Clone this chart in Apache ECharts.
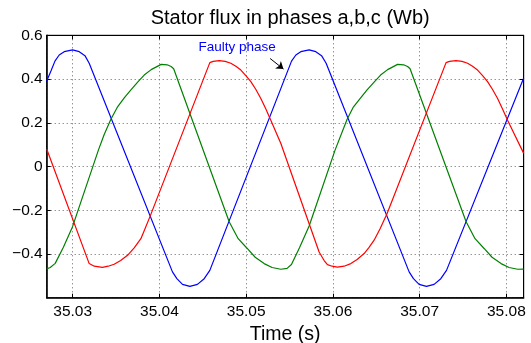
<!DOCTYPE html>
<html>
<head>
<meta charset="utf-8">
<script src="https://cdn.jsdelivr.net/npm/echarts@6/dist/echarts.min.js"></script>
<style>
  html, body { margin: 0; padding: 0; background: #fff; }
  #chart { width: 531px; height: 343px; }
</style>
</head>
<body>
<div id="chart"></div>
<script>
// Stator flux, phases a (blue, faulty), b (green), c (red)
const phaseATime = [35.0270, 35.02749, 35.02795, 35.02844, 35.02902, 35.02998, 35.03075, 35.03141, 35.03190,
  35.04150, 35.04201, 35.04266, 35.04351, 35.04438, 35.04516, 35.04581,
  35.05523, 35.05573, 35.05630, 35.05726, 35.05803, 35.05869, 35.05922,
  35.06879, 35.06929, 35.06994, 35.07079, 35.07167, 35.07244, 35.07310, 35.0820];
const phaseAFlux = [0.391, 0.437, 0.482, 0.510, 0.525, 0.533, 0.525, 0.507, 0.472,
  -0.482, -0.513, -0.539, -0.548, -0.539, -0.513, -0.475,
  0.482, 0.510, 0.525, 0.533, 0.525, 0.507, 0.472,
  -0.482, -0.513, -0.539, -0.548, -0.539, -0.513, -0.475, 0.405];

const phaseBTime = [35.0270, 35.02741, 35.02798, 35.02891, 35.02998, 35.03297, 35.03363, 35.03440, 35.03513,
  35.03594, 35.03671, 35.03749, 35.03824, 35.03905, 35.04020, 35.04089, 35.04135, 35.04164,
  35.04804, 35.04908, 35.05015, 35.05104, 35.05207, 35.05299, 35.05400, 35.05472, 35.05522,
  35.05616, 35.05726, 35.06026, 35.06164, 35.06233, 35.06320, 35.06394, 35.06475, 35.06550,
  35.06631, 35.06746, 35.06815, 35.06861, 35.06890,
  35.07536, 35.07639, 35.07746, 35.07835, 35.07939, 35.08031, 35.08131, 35.0820];
const phaseBFlux = [-0.468, -0.462, -0.443, -0.370, -0.275, 0.076, 0.146, 0.216, 0.270,
  0.314, 0.350, 0.386, 0.418, 0.443, 0.467, 0.465, 0.457, 0.447,
  -0.253, -0.330, -0.376, -0.415, -0.444, -0.462, -0.470, -0.466, -0.448,
  -0.370, -0.272, 0.076, 0.216, 0.270, 0.314, 0.350, 0.386, 0.418,
  0.443, 0.467, 0.465, 0.457, 0.447,
  -0.253, -0.330, -0.376, -0.415, -0.444, -0.462, -0.470, -0.469];

const phaseCTime = [35.0270, 35.03190, 35.03248, 35.03343, 35.03409, 35.03478, 35.03553, 35.03632, 35.03709,
  35.03786, 35.03836, 35.03893, 35.04581, 35.04619, 35.04689, 35.04758, 35.04823, 35.04881,
  35.04939, 35.04996, 35.05054, 35.05112, 35.05169, 35.05227, 35.05284, 35.05400,
  35.05841, 35.05899, 35.05937, 35.05991, 35.06052, 35.06129, 35.06207, 35.06279, 35.06360,
  35.06417, 35.06475, 35.06544, 35.06625, 35.07305, 35.07345, 35.07420, 35.07489, 35.07553,
  35.07610, 35.07668, 35.07726, 35.07783, 35.07841, 35.07899, 35.07956, 35.08014, 35.0820];
const phaseCFlux = [0.080, -0.444, -0.456, -0.461, -0.456, -0.447, -0.430, -0.406, -0.372,
  -0.330, -0.282, -0.227, 0.475, 0.481, 0.484, 0.481, 0.472, 0.458,
  0.441, 0.416, 0.388, 0.352, 0.311, 0.263, 0.212, 0.105,
  -0.391, -0.430, -0.449, -0.456, -0.460, -0.456, -0.444, -0.425, -0.398,
  -0.370, -0.337, -0.285, -0.215, 0.475, 0.481, 0.484, 0.481, 0.472,
  0.458, 0.441, 0.416, 0.388, 0.352, 0.311, 0.263, 0.212, 0.060];

const yTicks = [-0.6, -0.4, -0.2, 0, 0.2, 0.4, 0.6];
const xTickStep = 0.01;

// annotation: label centre and arrow (tail -> head) in data units
const faultyLabel = [35.04896, 0.543];
const faultyArrow = [[35.05276, 0.494], [35.05430, 0.4455]];

const FONT = "'Liberation Sans', Arial, Helvetica, sans-serif";

const zip = (t, v) => t.map((x, i) => [x, v[i]]);

const chart = echarts.init(document.getElementById('chart'));

const fmtY = (v) => {
  if (Math.abs(v) < 1e-9) return '0';
  return (v < 0 ? '\u2212' : '') + Math.abs(v).toFixed(1);
};

const lineSeries = (name, t, v, color) => ({
  name,
  type: 'line',
  data: zip(t, v),
  showSymbol: false,
  symbol: 'none',
  lineStyle: { color, width: 1.2 },
  itemStyle: { color },
  silent: true,
  z: 3,
});

const blue = lineSeries('a', phaseATime, phaseAFlux, '#0000ff');
blue.markPoint = {
  silent: true,
  symbol: 'circle',
  symbolSize: 1,
  itemStyle: { color: 'rgba(0,0,0,0)' },
  data: [{
    coord: faultyLabel,
    label: {
      show: true, position: 'inside', formatter: 'Faulty phase',
      color: '#0000ff', fontSize: 13.5, fontFamily: FONT,
    },
  }],
};
blue.markLine = {
  silent: true,
  symbol: ['none', 'arrow'],
  symbolSize: 7,
  lineStyle: { color: '#000', width: 1, type: 'solid' },
  label: { show: false },
  data: [[{ coord: faultyArrow[0] }, { coord: faultyArrow[1] }]],
};

const xBase = {
  type: 'value',
  min: 35.027,
  max: 35.082,
  minInterval: xTickStep,
  maxInterval: xTickStep,
};

const option = {
  animation: false,
  backgroundColor: '#fff',
  title: {
    text: 'Stator flux in phases a,b,c (Wb)',
    left: 285.2,
    top: 3,
    textAlign: 'center',
    textStyle: { fontSize: 20, fontWeight: 'normal', color: '#000', fontFamily: FONT },
  },
  grid: {
    left: 46.7, right: 7.3, top: 35.3, bottom: 45.3,
    outerBoundsMode: 'none',
    show: true, borderColor: '#000', borderWidth: 1,
  },
  xAxis: [
    Object.assign({}, xBase, {
      position: 'bottom',
      name: 'Time (s)',
      nameLocation: 'middle',
      nameGap: 23,
      nameTextStyle: { fontSize: 19.5, color: '#000', fontFamily: FONT },
      axisLine: { show: true, onZero: false, lineStyle: { color: '#000', width: 1.5 } },
      axisTick: { inside: true, length: 4, lineStyle: { color: '#000' } },
      axisLabel: {
        color: '#000', fontSize: 15.5, fontFamily: FONT, margin: 6,
        showMinLabel: false, showMaxLabel: false,
        formatter: (v) => v.toFixed(2),
      },
      splitLine: { show: true, lineStyle: { color: '#666', width: 1, type: [1, 3] } },
    }),
    Object.assign({}, xBase, {
      position: 'top',
      axisLine: { show: true, onZero: false, lineStyle: { color: '#000', width: 1 } },
      axisTick: { inside: true, length: 4, lineStyle: { color: '#000' } },
      axisLabel: { show: false },
      splitLine: { show: false },
    }),
  ],
  yAxis: [
    {
      type: 'value',
      min: yTicks[0], max: yTicks[yTicks.length - 1], interval: 0.2,
      position: 'left',
      axisLine: { show: true, onZero: false, lineStyle: { color: '#000', width: 1.5 } },
      axisTick: { inside: true, length: 4, lineStyle: { color: '#000' } },
      axisLabel: {
        color: '#000', fontSize: 15.5, fontFamily: FONT, margin: 4,
        showMinLabel: false, formatter: fmtY,
      },
      splitLine: { show: true, lineStyle: { color: '#666', width: 1, type: [1, 3] } },
    },
    {
      type: 'value',
      min: yTicks[0], max: yTicks[yTicks.length - 1], interval: 0.2,
      position: 'right',
      axisLine: { show: true, onZero: false, lineStyle: { color: '#000', width: 1 } },
      axisTick: { inside: true, length: 4, lineStyle: { color: '#000' } },
      axisLabel: { show: false },
      splitLine: { show: false },
    },
  ],
  series: [
    blue,
    lineSeries('b', phaseBTime, phaseBFlux, '#008000'),
    lineSeries('c', phaseCTime, phaseCFlux, '#ff0000'),
  ],
};

chart.setOption(option);
</script>
</body>
</html>
